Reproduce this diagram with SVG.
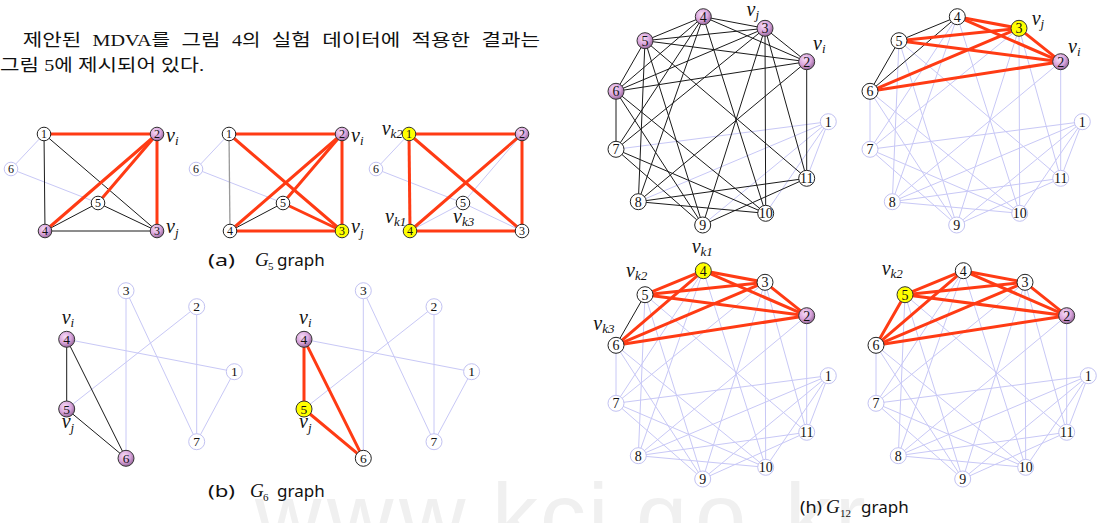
<svg xmlns="http://www.w3.org/2000/svg" width="1101" height="523" viewBox="0 0 1101 523">
<defs>
<radialGradient id="gp" cx="0.4" cy="0.35" r="0.7">
<stop offset="0" stop-color="#f7dcf7"/>
<stop offset="0.55" stop-color="#d9a5dc"/>
<stop offset="1" stop-color="#8d5e91"/>
</radialGradient>
</defs>
<style>
.er{stroke:#ff3b14;stroke-width:3;stroke-linecap:round}
.eb{stroke:#1a1a1a;stroke-width:1}
.eg{stroke:#9a9a9a;stroke-width:1.3}
.el{stroke:#c8c8f6;stroke-width:1}
.nw{fill:#fff;stroke:#222;stroke-width:1}
.nl{fill:#fff;stroke:#c2c2f2;stroke-width:1}
.np{fill:url(#gp);stroke:#333;stroke-width:1}
.ny{fill:#ffff00;stroke:#333;stroke-width:1}
.nt{font-family:"Liberation Serif",serif;text-anchor:middle;fill:#111}
.n5{font-size:12px}
.n6{font-size:13.5px}
.n12{font-size:14px}
.lb{font-family:"Liberation Serif",serif;font-style:italic;font-size:20px;fill:#111}
.sb{font-size:13px}
.cap{font-family:"Noto Sans","Noto Sans CJK KR",sans-serif;font-size:17px;fill:#111}
.gi{font-family:"Liberation Serif",serif;font-style:italic;font-size:19px;fill:#111}
.gs{font-family:"Liberation Serif",serif;font-size:11px;fill:#111}
.kr{font-family:"Liberation Serif","Noto Sans CJK KR",sans-serif;font-size:17px;fill:#111}
.wm{font-family:"Liberation Sans",sans-serif;font-size:92px;fill:#f0f0f0}
</style>
<rect width="1101" height="523" fill="#fff"/>
<text class="wm" x="255 327 399 470 492 540 588 610 636 695 752 785 835" y="548">www.kci.go.kr</text>

<g id="body-text">
<text class="kr" x="22.7" y="45.5" textLength="58.5" lengthAdjust="spacingAndGlyphs">제안된</text>
<text class="kr" x="92.6" y="45.5" textLength="77.5" lengthAdjust="spacingAndGlyphs">MDVA를</text>
<text class="kr" x="181.5" y="45.5" textLength="39" lengthAdjust="spacingAndGlyphs">그림</text>
<text class="kr" x="231.9" y="45.5" textLength="28.5" lengthAdjust="spacingAndGlyphs">4의</text>
<text class="kr" x="271.8" y="45.5" textLength="39" lengthAdjust="spacingAndGlyphs">실험</text>
<text class="kr" x="322.2" y="45.5" textLength="78" lengthAdjust="spacingAndGlyphs">데이터에</text>
<text class="kr" x="411.6" y="45.5" textLength="58.5" lengthAdjust="spacingAndGlyphs">적용한</text>
<text class="kr" x="481.5" y="45.5" textLength="58.5" lengthAdjust="spacingAndGlyphs">결과는</text>
<text class="kr" x="0" y="70.5" textLength="39" lengthAdjust="spacingAndGlyphs">그림</text>
<text class="kr" x="44.2" y="70.5" textLength="28.5" lengthAdjust="spacingAndGlyphs">5에</text>
<text class="kr" x="77.9" y="70.5" textLength="78" lengthAdjust="spacingAndGlyphs">제시되어</text>
<text class="kr" x="161.1" y="70.5" textLength="43" lengthAdjust="spacingAndGlyphs">있다.</text>
</g>

<!-- ===== G5 graph (a) panel 1 ===== -->
<g id="g5a">
<g id="g5a-edges">
<line class="el" x1="11" y1="169" x2="44" y2="134"/>
<line class="el" x1="11" y1="169" x2="98" y2="203"/>
<line class="eb" x1="44" y1="134" x2="45" y2="231"/>
<line class="eb" x1="44" y1="134" x2="157" y2="231"/>
<line class="eb" x1="45" y1="231" x2="98" y2="203"/>
<line class="eb" x1="98" y1="203" x2="157" y2="231"/>
<line class="eb" x1="45" y1="231" x2="157" y2="231"/>
<line class="er" x1="44" y1="134" x2="157" y2="134"/>
<line class="er" x1="157" y1="134" x2="157" y2="231"/>
<line class="er" x1="157" y1="134" x2="45" y2="231"/>
<line class="er" x1="157" y1="134" x2="98" y2="203"/>
</g>
<g id="g5a-n1"><circle class="nw" cx="44" cy="134" r="6.8"/><text class="nt n5" x="44" y="138.2">1</text></g>
<g id="g5a-n2"><circle class="np" cx="157" cy="134" r="6.8"/><text class="nt n5" x="157" y="138.2">2</text></g>
<g id="g5a-n3"><circle class="np" cx="157" cy="231" r="6.8"/><text class="nt n5" x="157" y="235.2">3</text></g>
<g id="g5a-n4"><circle class="np" cx="45" cy="231" r="6.8"/><text class="nt n5" x="45" y="235.2">4</text></g>
<g id="g5a-n5"><circle class="nw" cx="98" cy="203" r="6.8"/><text class="nt n5" x="98" y="207.2">5</text></g>
<g id="g5a-n6"><circle class="nl" cx="11" cy="169" r="6.8"/><text class="nt n5" x="11" y="173.2">6</text></g>
<text class="lb" x="166" y="141.5">v<tspan class="sb" dy="3">i</tspan></text>
<text class="lb" x="166" y="233.3">v<tspan class="sb" dy="4">j</tspan></text>
</g>

<!-- panel 2 -->
<g id="g5b" transform="translate(185,0)">
<g id="g5b-edges">
<line class="el" x1="11" y1="169" x2="44" y2="134"/>
<line class="el" x1="11" y1="169" x2="98" y2="203"/>
<line class="eg" x1="44" y1="134" x2="45" y2="231"/>
<line class="eb" x1="45" y1="231" x2="98" y2="203"/>
<line class="er" x1="44" y1="134" x2="157" y2="134"/>
<line class="er" x1="44" y1="134" x2="157" y2="231"/>
<line class="er" x1="157" y1="134" x2="157" y2="231"/>
<line class="er" x1="157" y1="134" x2="45" y2="231"/>
<line class="er" x1="45" y1="231" x2="157" y2="231"/>
<line class="er" x1="98" y1="203" x2="157" y2="231"/>
<line class="er" x1="157" y1="134" x2="98" y2="203"/>
</g>
<g id="g5b-n1"><circle class="nw" cx="44" cy="134" r="6.8"/><text class="nt n5" x="44" y="138.2">1</text></g>
<g id="g5b-n2"><circle class="np" cx="157" cy="134" r="6.8"/><text class="nt n5" x="157" y="138.2">2</text></g>
<g id="g5b-n3"><circle class="ny" cx="157" cy="231" r="6.8"/><text class="nt n5" x="157" y="235.2">3</text></g>
<g id="g5b-n4"><circle class="nw" cx="45" cy="231" r="6.8"/><text class="nt n5" x="45" y="235.2">4</text></g>
<g id="g5b-n5"><circle class="nw" cx="98" cy="203" r="6.8"/><text class="nt n5" x="98" y="207.2">5</text></g>
<g id="g5b-n6"><circle class="nl" cx="11" cy="169" r="6.8"/><text class="nt n5" x="11" y="173.2">6</text></g>
<text class="lb" x="166" y="141.5">v<tspan class="sb" dy="3">i</tspan></text>
<text class="lb" x="166" y="233.3">v<tspan class="sb" dy="4">j</tspan></text>
</g>

<!-- panel 3 -->
<g id="g5c" transform="translate(365,0)">
<g id="g5c-edges">
<line class="el" x1="11" y1="169" x2="44" y2="134"/>
<line class="el" x1="11" y1="169" x2="98" y2="203"/>
<line class="el" x1="98" y1="203" x2="157" y2="231"/>
<line class="el" x1="98" y1="203" x2="45" y2="231"/>
<line class="el" x1="98" y1="203" x2="157" y2="134"/>
<line class="er" x1="44" y1="134" x2="157" y2="134"/>
<line class="er" x1="44" y1="134" x2="45" y2="231"/>
<line class="er" x1="44" y1="134" x2="157" y2="231"/>
<line class="er" x1="45" y1="231" x2="157" y2="134"/>
<line class="er" x1="45" y1="231" x2="157" y2="231"/>
<line class="er" x1="157" y1="134" x2="157" y2="231"/>
</g>
<g id="g5c-n1"><circle class="ny" cx="44" cy="134" r="6.8"/><text class="nt n5" x="44" y="138.2">1</text></g>
<g id="g5c-n2"><circle class="np" cx="157" cy="134" r="6.8"/><text class="nt n5" x="157" y="138.2">2</text></g>
<g id="g5c-n3"><circle class="nw" cx="157" cy="231" r="6.8"/><text class="nt n5" x="157" y="235.2">3</text></g>
<g id="g5c-n4"><circle class="ny" cx="45" cy="231" r="6.8"/><text class="nt n5" x="45" y="235.2">4</text></g>
<g id="g5c-n5"><circle class="nw" cx="98" cy="203" r="6.8"/><text class="nt n5" x="98" y="207.2">5</text></g>
<g id="g5c-n6"><circle class="nl" cx="11" cy="169" r="6.8"/><text class="nt n5" x="11" y="173.2">6</text></g>
<text class="lb" x="16.7" y="135">v<tspan class="sb" dy="3">k2</tspan></text>
<text class="lb" x="20" y="223">v<tspan class="sb" dy="3">k1</tspan></text>
<text class="lb" x="88" y="223">v<tspan class="sb" dy="3">k3</tspan></text>
</g>

<text class="cap" x="208" y="266" textLength="27" lengthAdjust="spacingAndGlyphs">(a)</text>
<text class="gi" x="255" y="266">G</text><text class="gs" x="268" y="270">5</text>
<text class="cap" x="277" y="266">graph</text>

<!-- ===== G6 graphs ===== -->
<g id="g6a">
<g id="g6a-edges">
<line class="el" x1="126" y1="290.7" x2="126" y2="458.3"/>
<line class="el" x1="126" y1="290.7" x2="196.7" y2="441.7"/>
<line class="el" x1="196.7" y1="306.7" x2="66.7" y2="409"/>
<line class="el" x1="196.7" y1="306.7" x2="196.7" y2="441.7"/>
<line class="el" x1="66.7" y1="339.3" x2="234.3" y2="371.7"/>
<line class="el" x1="234.3" y1="371.7" x2="196.7" y2="441.7"/>
<line class="eb" x1="66.7" y1="339.3" x2="66.7" y2="409"/>
<line class="eb" x1="66.7" y1="339.3" x2="126" y2="458.3"/>
<line class="eb" x1="66.7" y1="409" x2="126" y2="458.3"/>
</g>
<g id="g6a-n1"><circle class="nl" cx="234.3" cy="371.7" r="8"/><text class="nt n6" x="234.3" y="376.4">1</text></g>
<g id="g6a-n2"><circle class="nl" cx="196.7" cy="306.7" r="8"/><text class="nt n6" x="196.7" y="311.4">2</text></g>
<g id="g6a-n3"><circle class="nl" cx="126" cy="290.7" r="8"/><text class="nt n6" x="126" y="295.4">3</text></g>
<g id="g6a-n4"><circle class="np" cx="66.7" cy="339.3" r="8"/><text class="nt n6" x="66.7" y="344">4</text></g>
<g id="g6a-n5"><circle class="np" cx="66.7" cy="409" r="8"/><text class="nt n6" x="66.7" y="413.7">5</text></g>
<g id="g6a-n6"><circle class="np" cx="126" cy="458.3" r="8"/><text class="nt n6" x="126" y="463">6</text></g>
<g id="g6a-n7"><circle class="nl" cx="196.7" cy="441.7" r="8"/><text class="nt n6" x="196.7" y="446.4">7</text></g>
<text class="lb" x="61.7" y="324">v<tspan class="sb" dy="3">i</tspan></text>
<text class="lb" x="61.7" y="428">v<tspan class="sb" dy="4">j</tspan></text>
</g>

<g id="g6b" transform="translate(237.3,0)">
<g id="g6b-edges">
<line class="el" x1="126" y1="290.7" x2="126" y2="458.3"/>
<line class="el" x1="126" y1="290.7" x2="196.7" y2="441.7"/>
<line class="el" x1="196.7" y1="306.7" x2="66.7" y2="409"/>
<line class="el" x1="196.7" y1="306.7" x2="196.7" y2="441.7"/>
<line class="el" x1="66.7" y1="339.3" x2="234.3" y2="371.7"/>
<line class="el" x1="234.3" y1="371.7" x2="196.7" y2="441.7"/>
<line class="er" x1="66.7" y1="339.3" x2="66.7" y2="409"/>
<line class="er" x1="66.7" y1="339.3" x2="126" y2="458.3"/>
<line class="er" x1="66.7" y1="409" x2="126" y2="458.3"/>
</g>
<g id="g6b-n1"><circle class="nl" cx="234.3" cy="371.7" r="8"/><text class="nt n6" x="234.3" y="376.4">1</text></g>
<g id="g6b-n2"><circle class="nl" cx="196.7" cy="306.7" r="8"/><text class="nt n6" x="196.7" y="311.4">2</text></g>
<g id="g6b-n3"><circle class="nl" cx="126" cy="290.7" r="8"/><text class="nt n6" x="126" y="295.4">3</text></g>
<g id="g6b-n4"><circle class="np" cx="66.7" cy="339.3" r="8"/><text class="nt n6" x="66.7" y="344">4</text></g>
<g id="g6b-n5"><circle class="ny" cx="66.7" cy="409" r="8"/><text class="nt n6" x="66.7" y="413.7">5</text></g>
<g id="g6b-n6"><circle class="nw" cx="126" cy="458.3" r="8"/><text class="nt n6" x="126" y="463">6</text></g>
<g id="g6b-n7"><circle class="nl" cx="196.7" cy="441.7" r="8"/><text class="nt n6" x="196.7" y="446.4">7</text></g>
<text class="lb" x="61.7" y="324">v<tspan class="sb" dy="3">i</tspan></text>
<text class="lb" x="61.7" y="428">v<tspan class="sb" dy="4">j</tspan></text>
</g>

<text class="cap" x="208" y="497" textLength="27" lengthAdjust="spacingAndGlyphs">(b)</text>
<text class="gi" x="250" y="497">G</text><text class="gs" x="263" y="501">6</text>
<text class="cap" x="277" y="497">graph</text>

<!-- ===== G12 top-left ===== -->
<g id="g12a">
<g id="g12a-edges">
<line class="el" x1="828.3" y1="121.7" x2="616" y2="149.3"/>
<line class="el" x1="828.3" y1="121.7" x2="638.3" y2="201.7"/>
<line class="el" x1="828.3" y1="121.7" x2="702.7" y2="225"/>
<line class="el" x1="828.3" y1="121.7" x2="765.7" y2="213.3"/>
<line class="el" x1="828.3" y1="121.7" x2="806.7" y2="178.3"/>
<line class="eb" x1="616" y1="91.3" x2="616" y2="149.3"/>
<line class="eb" x1="806.7" y1="61.7" x2="806.7" y2="178.3"/>
<line class="eb" x1="806.7" y1="61.7" x2="638.3" y2="201.7"/>
<line class="eb" x1="765" y1="28.3" x2="616" y2="149.3"/>
<line class="eb" x1="765" y1="28.3" x2="702.7" y2="225"/>
<line class="eb" x1="765" y1="28.3" x2="765.7" y2="213.3"/>
<line class="eb" x1="765" y1="28.3" x2="806.7" y2="178.3"/>
<line class="eb" x1="703.3" y1="16.7" x2="616" y2="149.3"/>
<line class="eb" x1="703.3" y1="16.7" x2="638.3" y2="201.7"/>
<line class="eb" x1="703.3" y1="16.7" x2="765.7" y2="213.3"/>
<line class="eb" x1="645" y1="40.7" x2="638.3" y2="201.7"/>
<line class="eb" x1="645" y1="40.7" x2="702.7" y2="225"/>
<line class="eb" x1="645" y1="40.7" x2="806.7" y2="178.3"/>
<line class="eb" x1="616" y1="91.3" x2="702.7" y2="225"/>
<line class="eb" x1="616" y1="91.3" x2="765.7" y2="213.3"/>
<line class="eb" x1="616" y1="149.3" x2="702.7" y2="225"/>
<line class="eb" x1="616" y1="149.3" x2="765.7" y2="213.3"/>
<line class="eb" x1="638.3" y1="201.7" x2="765.7" y2="213.3"/>
<line class="eb" x1="638.3" y1="201.7" x2="806.7" y2="178.3"/>
<line class="eb" x1="702.7" y1="225" x2="806.7" y2="178.3"/>
<line class="eb" x1="806.7" y1="61.7" x2="765" y2="28.3"/>
<line class="eb" x1="806.7" y1="61.7" x2="703.3" y2="16.7"/>
<line class="eb" x1="806.7" y1="61.7" x2="645" y2="40.7"/>
<line class="eb" x1="806.7" y1="61.7" x2="616" y2="91.3"/>
<line class="eb" x1="765" y1="28.3" x2="703.3" y2="16.7"/>
<line class="eb" x1="765" y1="28.3" x2="645" y2="40.7"/>
<line class="eb" x1="765" y1="28.3" x2="616" y2="91.3"/>
<line class="eb" x1="703.3" y1="16.7" x2="645" y2="40.7"/>
<line class="eb" x1="703.3" y1="16.7" x2="616" y2="91.3"/>
<line class="eb" x1="645" y1="40.7" x2="616" y2="91.3"/>
</g>
<g id="g12a-n1"><circle class="nl" cx="828.3" cy="121.7" r="8"/><text class="nt n12" x="828.3" y="126.5">1</text></g>
<g id="g12a-n2"><circle class="np" cx="806.7" cy="61.7" r="8"/><text class="nt n12" x="806.7" y="66.5">2</text></g>
<g id="g12a-n3"><circle class="np" cx="765" cy="28.3" r="8"/><text class="nt n12" x="765" y="33.1">3</text></g>
<g id="g12a-n4"><circle class="np" cx="703.3" cy="16.7" r="8"/><text class="nt n12" x="703.3" y="21.5">4</text></g>
<g id="g12a-n5"><circle class="np" cx="645" cy="40.7" r="8"/><text class="nt n12" x="645" y="45.5">5</text></g>
<g id="g12a-n6"><circle class="np" cx="616" cy="91.3" r="8"/><text class="nt n12" x="616" y="96.1">6</text></g>
<g id="g12a-n7"><circle class="nw" cx="616" cy="149.3" r="8"/><text class="nt n12" x="616" y="154.1">7</text></g>
<g id="g12a-n8"><circle class="nw" cx="638.3" cy="201.7" r="8"/><text class="nt n12" x="638.3" y="206.5">8</text></g>
<g id="g12a-n9"><circle class="nw" cx="702.7" cy="225" r="8"/><text class="nt n12" x="702.7" y="229.8">9</text></g>
<g id="g12a-n10"><circle class="nw" cx="765.7" cy="213.3" r="8"/><text class="nt n12" x="765.7" y="218.1">10</text></g>
<g id="g12a-n11"><circle class="nw" cx="806.7" cy="178.3" r="8"/><text class="nt n12" x="806.7" y="183.1">11</text></g>
<text class="lb" x="746.5" y="16" font-size="18">v<tspan class="sb" dy="3">j</tspan></text>
<text class="lb" x="813" y="50">v<tspan class="sb" dy="3">i</tspan></text>
</g>

<!-- ===== G12 top-right ===== -->
<g id="g12b" transform="translate(254,0)">
<g id="g12b-edges">
<line class="el" x1="828.3" y1="121.7" x2="616" y2="149.3"/>
<line class="el" x1="828.3" y1="121.7" x2="638.3" y2="201.7"/>
<line class="el" x1="828.3" y1="121.7" x2="702.7" y2="225"/>
<line class="el" x1="828.3" y1="121.7" x2="765.7" y2="213.3"/>
<line class="el" x1="828.3" y1="121.7" x2="806.7" y2="178.3"/>
<line class="el" x1="616" y1="91.3" x2="616" y2="149.3"/>
<line class="el" x1="806.7" y1="61.7" x2="806.7" y2="178.3"/>
<line class="el" x1="806.7" y1="61.7" x2="638.3" y2="201.7"/>
<line class="el" x1="765" y1="28.3" x2="616" y2="149.3"/>
<line class="el" x1="765" y1="28.3" x2="702.7" y2="225"/>
<line class="el" x1="765" y1="28.3" x2="765.7" y2="213.3"/>
<line class="el" x1="765" y1="28.3" x2="806.7" y2="178.3"/>
<line class="el" x1="703.3" y1="16.7" x2="616" y2="149.3"/>
<line class="el" x1="703.3" y1="16.7" x2="638.3" y2="201.7"/>
<line class="el" x1="703.3" y1="16.7" x2="765.7" y2="213.3"/>
<line class="el" x1="645" y1="40.7" x2="638.3" y2="201.7"/>
<line class="el" x1="645" y1="40.7" x2="702.7" y2="225"/>
<line class="el" x1="645" y1="40.7" x2="806.7" y2="178.3"/>
<line class="el" x1="616" y1="91.3" x2="702.7" y2="225"/>
<line class="el" x1="616" y1="91.3" x2="765.7" y2="213.3"/>
<line class="el" x1="616" y1="149.3" x2="702.7" y2="225"/>
<line class="el" x1="616" y1="149.3" x2="765.7" y2="213.3"/>
<line class="el" x1="638.3" y1="201.7" x2="765.7" y2="213.3"/>
<line class="el" x1="638.3" y1="201.7" x2="806.7" y2="178.3"/>
<line class="el" x1="702.7" y1="225" x2="806.7" y2="178.3"/>
<line class="eb" x1="703.3" y1="16.7" x2="645" y2="40.7"/>
<line class="eb" x1="703.3" y1="16.7" x2="616" y2="91.3"/>
<line class="eb" x1="645" y1="40.7" x2="616" y2="91.3"/>
<line class="er" x1="806.7" y1="61.7" x2="765" y2="28.3"/>
<line class="er" x1="806.7" y1="61.7" x2="703.3" y2="16.7"/>
<line class="er" x1="806.7" y1="61.7" x2="645" y2="40.7"/>
<line class="er" x1="806.7" y1="61.7" x2="616" y2="91.3"/>
<line class="er" x1="765" y1="28.3" x2="703.3" y2="16.7"/>
<line class="er" x1="765" y1="28.3" x2="645" y2="40.7"/>
<line class="er" x1="765" y1="28.3" x2="616" y2="91.3"/>
</g>
<g id="g12b-n1"><circle class="nl" cx="828.3" cy="121.7" r="8"/><text class="nt n12" x="828.3" y="126.5">1</text></g>
<g id="g12b-n2"><circle class="np" cx="806.7" cy="61.7" r="8"/><text class="nt n12" x="806.7" y="66.5">2</text></g>
<g id="g12b-n3"><circle class="ny" cx="765" cy="28.3" r="8"/><text class="nt n12" x="765" y="33.1">3</text></g>
<g id="g12b-n4"><circle class="nw" cx="703.3" cy="16.7" r="8"/><text class="nt n12" x="703.3" y="21.5">4</text></g>
<g id="g12b-n5"><circle class="nw" cx="645" cy="40.7" r="8"/><text class="nt n12" x="645" y="45.5">5</text></g>
<g id="g12b-n6"><circle class="nw" cx="616" cy="91.3" r="8"/><text class="nt n12" x="616" y="96.1">6</text></g>
<g id="g12b-n7"><circle class="nl" cx="616" cy="149.3" r="8"/><text class="nt n12" x="616" y="154.1">7</text></g>
<g id="g12b-n8"><circle class="nl" cx="638.3" cy="201.7" r="8"/><text class="nt n12" x="638.3" y="206.5">8</text></g>
<g id="g12b-n9"><circle class="nl" cx="702.7" cy="225" r="8"/><text class="nt n12" x="702.7" y="229.8">9</text></g>
<g id="g12b-n10"><circle class="nl" cx="765.7" cy="213.3" r="8"/><text class="nt n12" x="765.7" y="218.1">10</text></g>
<g id="g12b-n11"><circle class="nl" cx="806.7" cy="178.3" r="8"/><text class="nt n12" x="806.7" y="183.1">11</text></g>
<text class="lb" x="777.7" y="25">v<tspan class="sb" dy="3">j</tspan></text>
<text class="lb" x="814" y="53">v<tspan class="sb" dy="3">i</tspan></text>
</g>

<!-- ===== G12 bottom-left ===== -->
<g id="g12c" transform="translate(0,254)">
<g id="g12c-edges">
<line class="el" x1="828.3" y1="121.7" x2="616" y2="149.3"/>
<line class="el" x1="828.3" y1="121.7" x2="638.3" y2="201.7"/>
<line class="el" x1="828.3" y1="121.7" x2="702.7" y2="225"/>
<line class="el" x1="828.3" y1="121.7" x2="765.7" y2="213.3"/>
<line class="el" x1="828.3" y1="121.7" x2="806.7" y2="178.3"/>
<line class="el" x1="616" y1="91.3" x2="616" y2="149.3"/>
<line class="el" x1="806.7" y1="61.7" x2="806.7" y2="178.3"/>
<line class="el" x1="806.7" y1="61.7" x2="638.3" y2="201.7"/>
<line class="el" x1="765" y1="28.3" x2="616" y2="149.3"/>
<line class="el" x1="765" y1="28.3" x2="702.7" y2="225"/>
<line class="el" x1="765" y1="28.3" x2="765.7" y2="213.3"/>
<line class="el" x1="765" y1="28.3" x2="806.7" y2="178.3"/>
<line class="el" x1="703.3" y1="16.7" x2="616" y2="149.3"/>
<line class="el" x1="703.3" y1="16.7" x2="638.3" y2="201.7"/>
<line class="el" x1="703.3" y1="16.7" x2="765.7" y2="213.3"/>
<line class="el" x1="645" y1="40.7" x2="638.3" y2="201.7"/>
<line class="el" x1="645" y1="40.7" x2="702.7" y2="225"/>
<line class="el" x1="645" y1="40.7" x2="806.7" y2="178.3"/>
<line class="el" x1="616" y1="91.3" x2="702.7" y2="225"/>
<line class="el" x1="616" y1="91.3" x2="765.7" y2="213.3"/>
<line class="el" x1="616" y1="149.3" x2="702.7" y2="225"/>
<line class="el" x1="616" y1="149.3" x2="765.7" y2="213.3"/>
<line class="el" x1="638.3" y1="201.7" x2="765.7" y2="213.3"/>
<line class="el" x1="638.3" y1="201.7" x2="806.7" y2="178.3"/>
<line class="el" x1="702.7" y1="225" x2="806.7" y2="178.3"/>
<line class="eb" x1="645" y1="40.7" x2="616" y2="91.3"/>
<line class="er" x1="806.7" y1="61.7" x2="765" y2="28.3"/>
<line class="er" x1="806.7" y1="61.7" x2="703.3" y2="16.7"/>
<line class="er" x1="806.7" y1="61.7" x2="645" y2="40.7"/>
<line class="er" x1="806.7" y1="61.7" x2="616" y2="91.3"/>
<line class="er" x1="765" y1="28.3" x2="703.3" y2="16.7"/>
<line class="er" x1="765" y1="28.3" x2="645" y2="40.7"/>
<line class="er" x1="765" y1="28.3" x2="616" y2="91.3"/>
<line class="er" x1="703.3" y1="16.7" x2="645" y2="40.7"/>
<line class="er" x1="703.3" y1="16.7" x2="616" y2="91.3"/>
</g>
<g id="g12c-n1"><circle class="nl" cx="828.3" cy="121.7" r="8"/><text class="nt n12" x="828.3" y="126.5">1</text></g>
<g id="g12c-n2"><circle class="np" cx="806.7" cy="61.7" r="8"/><text class="nt n12" x="806.7" y="66.5">2</text></g>
<g id="g12c-n3"><circle class="nw" cx="765" cy="28.3" r="8"/><text class="nt n12" x="765" y="33.1">3</text></g>
<g id="g12c-n4"><circle class="ny" cx="703.3" cy="16.7" r="8"/><text class="nt n12" x="703.3" y="21.5">4</text></g>
<g id="g12c-n5"><circle class="nw" cx="645" cy="40.7" r="8"/><text class="nt n12" x="645" y="45.5">5</text></g>
<g id="g12c-n6"><circle class="nw" cx="616" cy="91.3" r="8"/><text class="nt n12" x="616" y="96.1">6</text></g>
<g id="g12c-n7"><circle class="nl" cx="616" cy="149.3" r="8"/><text class="nt n12" x="616" y="154.1">7</text></g>
<g id="g12c-n8"><circle class="nl" cx="638.3" cy="201.7" r="8"/><text class="nt n12" x="638.3" y="206.5">8</text></g>
<g id="g12c-n9"><circle class="nl" cx="702.7" cy="225" r="8"/><text class="nt n12" x="702.7" y="229.8">9</text></g>
<g id="g12c-n10"><circle class="nl" cx="765.7" cy="213.3" r="8"/><text class="nt n12" x="765.7" y="218.1">10</text></g>
<g id="g12c-n11"><circle class="nl" cx="806.7" cy="178.3" r="8"/><text class="nt n12" x="806.7" y="183.1">11</text></g>
<text class="lb" x="691.7" y="-1">v<tspan class="sb" dy="3">k1</tspan></text>
<text class="lb" x="626" y="22.5">v<tspan class="sb" dy="3">k2</tspan></text>
<text class="lb" x="593.3" y="76">v<tspan class="sb" dy="3">k3</tspan></text>
</g>

<!-- ===== G12 bottom-right ===== -->
<g id="g12d" transform="translate(260,254)">
<g id="g12d-edges">
<line class="el" x1="828.3" y1="121.7" x2="616" y2="149.3"/>
<line class="el" x1="828.3" y1="121.7" x2="638.3" y2="201.7"/>
<line class="el" x1="828.3" y1="121.7" x2="702.7" y2="225"/>
<line class="el" x1="828.3" y1="121.7" x2="765.7" y2="213.3"/>
<line class="el" x1="828.3" y1="121.7" x2="806.7" y2="178.3"/>
<line class="el" x1="616" y1="91.3" x2="616" y2="149.3"/>
<line class="el" x1="806.7" y1="61.7" x2="806.7" y2="178.3"/>
<line class="el" x1="806.7" y1="61.7" x2="638.3" y2="201.7"/>
<line class="el" x1="765" y1="28.3" x2="616" y2="149.3"/>
<line class="el" x1="765" y1="28.3" x2="702.7" y2="225"/>
<line class="el" x1="765" y1="28.3" x2="765.7" y2="213.3"/>
<line class="el" x1="765" y1="28.3" x2="806.7" y2="178.3"/>
<line class="el" x1="703.3" y1="16.7" x2="616" y2="149.3"/>
<line class="el" x1="703.3" y1="16.7" x2="638.3" y2="201.7"/>
<line class="el" x1="703.3" y1="16.7" x2="765.7" y2="213.3"/>
<line class="el" x1="645" y1="40.7" x2="638.3" y2="201.7"/>
<line class="el" x1="645" y1="40.7" x2="702.7" y2="225"/>
<line class="el" x1="645" y1="40.7" x2="806.7" y2="178.3"/>
<line class="el" x1="616" y1="91.3" x2="702.7" y2="225"/>
<line class="el" x1="616" y1="91.3" x2="765.7" y2="213.3"/>
<line class="el" x1="616" y1="149.3" x2="702.7" y2="225"/>
<line class="el" x1="616" y1="149.3" x2="765.7" y2="213.3"/>
<line class="el" x1="638.3" y1="201.7" x2="765.7" y2="213.3"/>
<line class="el" x1="638.3" y1="201.7" x2="806.7" y2="178.3"/>
<line class="el" x1="702.7" y1="225" x2="806.7" y2="178.3"/>
<line class="er" x1="806.7" y1="61.7" x2="765" y2="28.3"/>
<line class="er" x1="806.7" y1="61.7" x2="703.3" y2="16.7"/>
<line class="er" x1="806.7" y1="61.7" x2="645" y2="40.7"/>
<line class="er" x1="806.7" y1="61.7" x2="616" y2="91.3"/>
<line class="er" x1="765" y1="28.3" x2="703.3" y2="16.7"/>
<line class="er" x1="765" y1="28.3" x2="645" y2="40.7"/>
<line class="er" x1="765" y1="28.3" x2="616" y2="91.3"/>
<line class="er" x1="703.3" y1="16.7" x2="645" y2="40.7"/>
<line class="er" x1="703.3" y1="16.7" x2="616" y2="91.3"/>
<line class="er" x1="645" y1="40.7" x2="616" y2="91.3"/>
</g>
<g id="g12d-n1"><circle class="nl" cx="828.3" cy="121.7" r="8"/><text class="nt n12" x="828.3" y="126.5">1</text></g>
<g id="g12d-n2"><circle class="np" cx="806.7" cy="61.7" r="8"/><text class="nt n12" x="806.7" y="66.5">2</text></g>
<g id="g12d-n3"><circle class="nw" cx="765" cy="28.3" r="8"/><text class="nt n12" x="765" y="33.1">3</text></g>
<g id="g12d-n4"><circle class="nw" cx="703.3" cy="16.7" r="8"/><text class="nt n12" x="703.3" y="21.5">4</text></g>
<g id="g12d-n5"><circle class="ny" cx="645" cy="40.7" r="8"/><text class="nt n12" x="645" y="45.5">5</text></g>
<g id="g12d-n6"><circle class="nw" cx="616" cy="91.3" r="8"/><text class="nt n12" x="616" y="96.1">6</text></g>
<g id="g12d-n7"><circle class="nl" cx="616" cy="149.3" r="8"/><text class="nt n12" x="616" y="154.1">7</text></g>
<g id="g12d-n8"><circle class="nl" cx="638.3" cy="201.7" r="8"/><text class="nt n12" x="638.3" y="206.5">8</text></g>
<g id="g12d-n9"><circle class="nl" cx="702.7" cy="225" r="8"/><text class="nt n12" x="702.7" y="229.8">9</text></g>
<g id="g12d-n10"><circle class="nl" cx="765.7" cy="213.3" r="8"/><text class="nt n12" x="765.7" y="218.1">10</text></g>
<g id="g12d-n11"><circle class="nl" cx="806.7" cy="178.3" r="8"/><text class="nt n12" x="806.7" y="183.1">11</text></g>
<text class="lb" x="621.7" y="21">v<tspan class="sb" dy="3">k2</tspan></text>
</g>

<text class="cap" x="800" y="513" textLength="22" lengthAdjust="spacingAndGlyphs">(h)</text>
<text class="gi" x="826" y="513">G</text><text class="gs" x="840" y="517">12</text>
<text class="cap" x="861" y="513">graph</text>
</svg>
